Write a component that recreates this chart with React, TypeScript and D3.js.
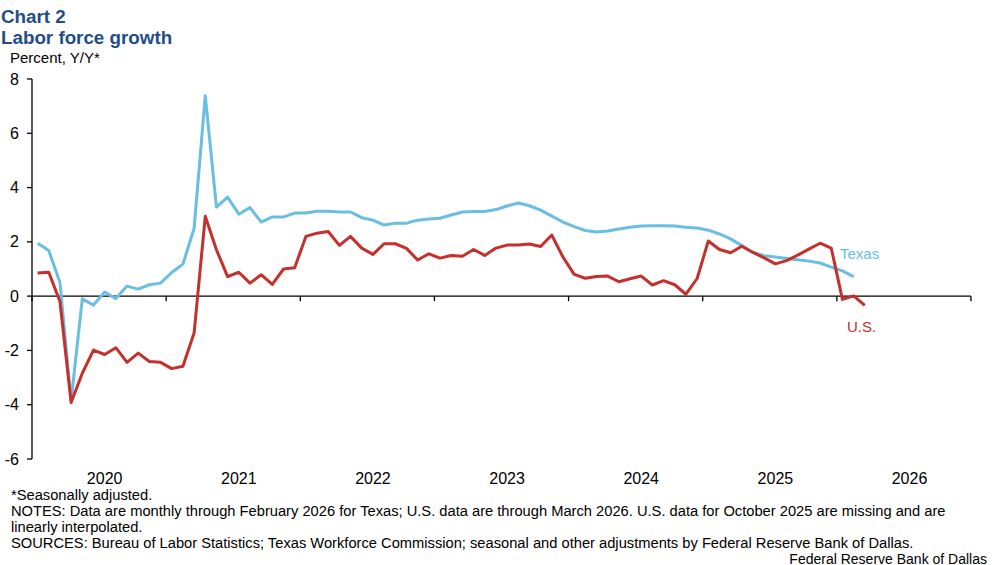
import React from "react";
import * as d3 from "d3";

// Monthly values starting January 2020 (index 0)
const yearLabels = ["2020", "2021", "2022", "2023", "2024", "2025", "2026"];
const yTicks = [-6, -4, -2, 0, 2, 4, 6, 8];

const texas = [
  1.95, 1.68, 0.5, -3.85, -0.1, -0.33, 0.15, -0.09, 0.37, 0.26, 0.42, 0.48,
  0.87, 1.18, 2.49, 7.38, 3.28, 3.65, 3.02, 3.26, 2.73, 2.92, 2.92, 3.06,
  3.06, 3.13, 3.13, 3.1, 3.1, 2.89, 2.8, 2.62, 2.69, 2.69, 2.8, 2.84,
  2.87, 2.99, 3.1, 3.12, 3.12, 3.19, 3.32, 3.43, 3.33, 3.17, 2.95, 2.73,
  2.56, 2.42, 2.36, 2.4, 2.47, 2.54, 2.58, 2.59, 2.59, 2.58, 2.54, 2.51,
  2.43, 2.29, 2.11, 1.86, 1.61, 1.49, 1.44, 1.39, 1.34, 1.29, 1.22, 1.07,
  0.93, 0.72,
];

const us = [
  0.85, 0.88, -0.2, -3.92, -2.84, -1.99, -2.15, -1.9, -2.44, -2.1, -2.41, -2.44,
  -2.67, -2.58, -1.36, 2.94, 1.71, 0.72, 0.88, 0.48, 0.79, 0.43, 1.0, 1.05,
  2.2, 2.32, 2.38, 1.87, 2.2, 1.77, 1.54, 1.93, 1.93, 1.76, 1.33, 1.56,
  1.4, 1.5, 1.47, 1.72, 1.5, 1.77, 1.88, 1.88, 1.92, 1.83, 2.25, 1.44,
  0.8, 0.66, 0.72, 0.74, 0.53, 0.64, 0.74, 0.41, 0.57, 0.42, 0.07, 0.65,
  2.03, 1.72, 1.6, 1.84, 1.61, 1.41, 1.19, 1.31, 1.51, 1.73, 1.95, 1.77,
  -0.12, 0.01, -0.34,
];

const footnotes = [
  "*Seasonally adjusted.",
  "NOTES: Data are monthly through February 2026 for Texas; U.S. data are through March 2026. U.S. data for October 2025 are missing and are",
  "linearly interpolated.",
  "SOURCES: Bureau of Labor Statistics; Texas Workforce Commission; seasonal and other adjustments by Federal Reserve Bank of Dallas.",
];

const W = 997;
const H = 565;
const BLUE = "#6ABDE3";
const RED = "#C4302B";
const TITLE = "#1F4E86";
const FONT = "Liberation Sans, Arial, sans-serif";

export default function App() {
  const x = d3.scaleLinear().domain([0, yearLabels.length * 12]).range([32, 971]);
  const y = d3.scaleLinear().domain([-6, 8]).range([459, 79]);

  const line = d3
    .line<number>()
    .x((_, i) => x(i + 0.5))
    .y((d) => y(d));

  const yearTicks = d3.range(0, yearLabels.length + 1).map((k) => k * 12);

  return (
    <div style={{ position: "absolute", left: 0, top: 0 }}>
      <svg width={W} height={H} style={{ display: "block", background: "#fff" }} fontFamily={FONT}>
        <text x={1} y={23} fontSize={18.8} fontWeight="bold" fill={TITLE}>
          Chart 2
        </text>
        <text x={1} y={44} fontSize={18.8} fontWeight="bold" fill={TITLE}>
          Labor force growth
        </text>
        <text x={10} y={63} fontSize={15} fill="#000">
          Percent, Y/Y*
        </text>

        {/* y axis */}
        <line x1={x(0)} x2={x(0)} y1={y(8)} y2={y(-6)} stroke="#000" strokeWidth={1.3} />
        {yTicks.map((t) => (
          <g key={t}>
            <line x1={x(0) - 5} x2={x(0)} y1={y(t)} y2={y(t)} stroke="#000" strokeWidth={1.3} />
            <text x={19} y={y(t) + 5.5} fontSize={16} textAnchor="end" fill="#000">
              {t}
            </text>
          </g>
        ))}

        {/* x axis at zero */}
        <line x1={x(0)} x2={x(yearLabels.length * 12)} y1={y(0)} y2={y(0)} stroke="#000" strokeWidth={1.3} />
        {yearTicks.map((m) => (
          <line key={m} x1={x(m)} x2={x(m)} y1={y(0)} y2={y(0) + 5} stroke="#000" strokeWidth={1.3} />
        ))}
        {yearLabels.map((lab, k) => (
          <text key={lab} x={x(k * 12 + 6.5)} y={484} fontSize={16} textAnchor="middle" fill="#000">
            {lab}
          </text>
        ))}

        <path d={line(texas) || ""} fill="none" stroke={BLUE} strokeWidth={3} strokeLinejoin="round" />
        <path d={line(us) || ""} fill="none" stroke={RED} strokeWidth={3} strokeLinejoin="round" />

        <text x={840} y={259} fontSize={15} fill={BLUE}>
          Texas
        </text>
        <text x={847} y={332} fontSize={15} fill={RED}>
          U.S.
        </text>

        {footnotes.map((f, i) => (
          <text key={i} x={11} y={500 + i * 16} fontSize={14.7} fill="#000">
            {f}
          </text>
        ))}
        <text x={987} y={563.5} fontSize={14} textAnchor="end" fill="#000">
          Federal Reserve Bank of Dallas
        </text>
      </svg>
    </div>
  );
}
